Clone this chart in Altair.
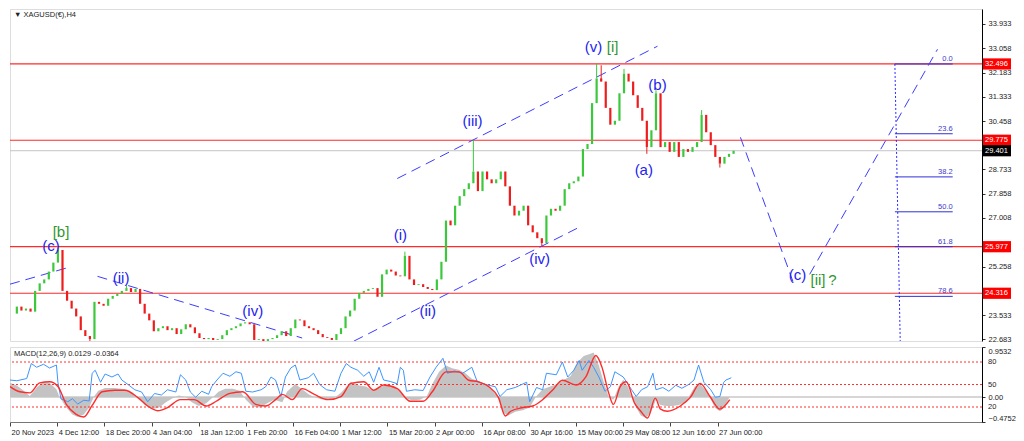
import altair as alt
import pandas as pd

W, H1, H2 = 972, 332, 75
X_DOMAIN = [0, 1277.5]
P_DOMAIN = [22.613, 34.457]
MACD_DOMAIN = [-0.4752, 0.9532]
OSC_DOMAIN = [0, 100]

# ---------------- price data (daily closes of the H4 chart) ----------------
closes = [
    23.59, 23.84, 23.70, 23.77, 23.66, 24.40, 24.67, 24.81, 25.09, 25.41,
    25.86, 24.40, 24.05, 23.77, 23.49, 23.00, 22.79, 22.68, 24.01, 23.94,
    23.87, 24.12, 24.22, 24.29, 24.40, 24.50, 24.36, 24.47, 23.94, 23.59,
    23.35, 22.96, 23.07, 23.14, 23.00, 23.07, 22.86, 23.03, 23.21, 23.10,
    22.89, 22.72, 22.68, 22.72, 22.65, 22.68, 22.82, 23.00, 23.07, 23.14,
    23.24, 23.28, 23.21, 22.65, 22.68, 22.61, 22.68, 22.72, 22.82, 22.96,
    22.79, 23.07, 23.38, 23.35, 23.14, 23.07, 23.00, 22.86, 22.75, 22.72,
    22.65, 22.86, 23.07, 23.49, 23.70, 24.12, 24.33, 24.40, 24.47, 24.50,
    24.19, 24.99, 25.16, 25.09, 24.95, 24.92, 25.65, 24.81, 24.61, 24.64,
    24.54, 24.47, 24.43, 24.81, 25.44, 26.91, 26.74, 27.44, 27.78, 28.03,
    28.24, 28.66, 27.96, 28.66, 28.38, 28.24, 28.38, 28.66, 28.13, 27.44,
    27.09, 27.26, 27.44, 26.74, 26.49, 26.28, 26.11, 27.09, 27.33, 27.26,
    27.44, 28.03, 28.24, 28.31, 28.48, 29.46, 29.64, 31.10, 31.98, 31.87,
    30.93, 30.33, 30.47, 31.45, 32.15, 31.87, 31.38, 30.93, 30.47, 29.53,
    30.13, 31.45, 29.53, 29.71, 29.36, 29.71, 29.18, 29.46, 29.36, 29.53,
    29.71, 30.68, 30.06, 29.60, 29.18, 28.94, 29.18, 29.29, 29.40,
]
bars_per_day = 6
spike_days = [10, 17, 25, 86, 101, 116, 128, 129, 134, 139, 141, 151, 155]
spike_prices = [25.95, 22.58, 24.60, 25.80, 29.78, 25.98, 32.50, 32.45, 32.32, 29.29, 31.56, 30.85, 28.80]

hline_prices = [32.496, 29.775, 25.977, 24.316]
bid_price = 29.401
price_ticks = [22.683, 23.533, 25.258, 27.008, 27.858, 28.733, 30.458, 31.333, 32.183, 33.058, 33.933]

time_labels = ["20 Nov 2023", "4 Dec 12:00", "18 Dec 20:00", "4 Jan 04:00", "18 Jan 12:00",
               "1 Feb 20:00", "16 Feb 04:00", "1 Mar 12:00", "15 Mar 20:00", "2 Apr 00:00",
               "16 Apr 08:00", "30 Apr 16:00", "15 May 00:00", "29 May 08:00", "12 Jun 16:00",
               "27 Jun 00:00"]
time_step = 62

# Fibonacci tool
fib_labels = ["0.0", "23.6", "38.2", "50.0", "61.8", "78.6"]
fib_prices = [32.496, 30.007, 28.467, 27.222, 25.977, 24.205]
fib_bar_start, fib_bar_end = 1163, 1239
fib_vert_bars = [1163, 1170]
fib_vert_prices = [32.496, 22.613]

# dashed trend lines (bar, price) endpoints
seg_bar1 = [0, 115, 452, 509, 960, 1051]
seg_p1 = [24.64, 24.92, 22.61, 28.41, 29.88, 24.99]
seg_bar2 = [76, 384, 748, 851, 1029, 1219]
seg_p2 = [25.23, 22.72, 26.67, 33.13, 24.74, 33.02]

# wave labels
wave_text = ["[b]", "(c)", "(ii)", "(iv)", "(i)", "(ii)", "(iii)", "(iv)", "(v)", "[i]", "(b)", "(a)", "(c)", "[ii]", "?"]
wave_bar = [67, 54, 146, 319, 513, 549, 608, 696, 767, 792, 851, 833, 1035, 1062, 1081]
wave_price = [26.50, 26.00, 24.85, 23.70, 26.39, 23.70, 30.47, 25.55, 33.09, 33.09, 31.73, 28.73, 24.95, 24.78, 24.78]
wave_color = ["#2f962f", "#2323f0", "#2323f0", "#2323f0", "#2323f0", "#2323f0", "#2323f0", "#2323f0", "#2323f0",
              "#2f962f", "#2323f0", "#2323f0", "#2323f0", "#2f962f", "#2f962f"]

# ---------------- MACD panel data ----------------
hist_bars = [0, 9, 18, 26, 35, 44, 52, 61, 65, 74, 82, 89, 97, 104, 110, 116, 125, 138, 151, 160, 168, 177, 186, 196,
             205, 213, 222, 231, 239, 248, 258, 267, 274, 283, 293, 302, 310, 319, 329, 338, 347, 358, 364, 375, 384,
             393, 400, 409, 418, 426, 435, 448, 459, 468, 477, 484, 493, 504, 513, 519, 528, 539, 548, 555, 564, 573,
             581, 590, 599, 607, 616, 625, 633, 642, 648, 655, 664, 674, 683, 691, 700, 710, 719, 728, 737, 745, 754,
             762, 767, 774, 780, 787, 793, 800, 806, 812, 817, 823, 829, 836, 842, 849, 855, 862, 871, 879, 888, 894,
             900, 907, 913, 920, 926, 933, 939, 946]
hist_vals = [0.27, 0.22, 0.12, 0.02, 0.18, 0.29, 0.27, 0.15, 0.0, -0.2, -0.33, -0.38, -0.33, -0.2, 0.0, 0.12, 0.17,
             0.17, 0.15, 0.07, 0.0, -0.15, -0.23, -0.2, -0.1, -0.03, 0.03, 0.0, -0.1, -0.17, -0.12, 0.0, 0.1, 0.16,
             0.16, 0.12, -0.05, -0.18, -0.2, -0.12, -0.05, -0.1, 0.1, 0.25, 0.15, 0.05, 0.0, -0.04, -0.05, -0.02, 0.08,
             0.29, 0.22, 0.2, 0.12, 0.18, 0.22, 0.2, 0.1, -0.02, -0.06, -0.05, 0.02, 0.25, 0.48, 0.6, 0.55, 0.52, 0.45,
             0.35, 0.3, 0.25, 0.15, 0.0, -0.3, -0.35, -0.28, -0.25, -0.2, 0.0, 0.15, 0.2, 0.25, 0.33, 0.4, 0.65, 0.78,
             0.82, 0.85, 0.6, 0.3, 0.0, -0.05, 0.2, 0.33, 0.2, 0.0, -0.2, -0.35, -0.4, -0.3, -0.05, -0.15, -0.17,
             -0.17, -0.15, -0.1, 0.05, 0.2, 0.25, 0.15, 0.0, -0.2, -0.27, -0.2, 0.01]
sig_bars = [0, 13, 26, 39, 52, 63, 74, 87, 97, 108, 121, 138, 151, 168, 181, 194, 207, 224, 242, 258, 271, 289, 306,
            323, 336, 349, 358, 371, 384, 400, 418, 435, 448, 465, 478, 491, 509, 526, 543, 555, 573, 590, 603, 616,
            629, 642, 651, 658, 674, 687, 700, 713, 726, 744, 757, 770, 778, 787, 793, 802, 810, 821, 829, 838, 848,
            855, 864, 881, 894, 907, 920, 933, 946]
sig_vals = [0.2, 0.1, 0.08, 0.27, 0.29, 0.2, -0.14, -0.33, -0.38, -0.16, 0.1, 0.13, 0.13, -0.01, -0.17, -0.26, -0.2,
            -0.05, -0.05, -0.17, -0.08, 0.07, 0.1, -0.14, -0.17, -0.05, 0.05, -0.05, 0.16, 0.05, -0.05, 0.01, 0.26,
            0.29, 0.13, 0.23, 0.16, -0.08, -0.08, 0.1, 0.48, 0.48, 0.32, 0.29, 0.2, -0.01, -0.36, -0.27, -0.2, -0.17,
            -0.05, 0.13, 0.32, 0.23, 0.39, 0.79, 0.57, 0.07, -0.14, 0.2, 0.29, -0.12, -0.27, -0.4, -0.02, -0.23,
            -0.27, -0.17, -0.01, 0.26, 0.01, -0.23, -0.05]
osc_bars = [0, 9, 22, 28, 35, 44, 52, 61, 63, 67, 76, 82, 89, 97, 104, 108, 112, 119, 125, 134, 142, 147, 155, 164,
            173, 181, 190, 199, 207, 218, 224, 231, 237, 244, 252, 261, 265, 272, 280, 289, 297, 304, 310, 319, 330,
            336, 343, 349, 356, 362, 369, 375, 381, 392, 399, 407, 416, 427, 435, 442, 448, 457, 465, 472, 478, 485,
            491, 500, 509, 513, 517, 521, 532, 543, 552, 560, 569, 575, 584, 595, 607, 614, 625, 638, 644, 653, 664,
            679, 683, 692, 700, 705, 718, 726, 733, 741, 748, 752, 761, 767, 774, 782, 789, 795, 806, 817, 823, 830,
            838, 845, 849, 858, 866, 875, 883, 892, 899, 905, 912, 921, 927, 933, 938, 941, 948]
osc_vals = [56, 55, 58, 78, 73, 77, 72, 76, 53, 31, 27, 31, 24, 29, 28, 65, 69, 53, 64, 60, 64, 56, 50, 43, 40, 27,
            38, 36, 43, 40, 63, 56, 40, 33, 41, 37, 47, 56, 65, 61, 67, 65, 41, 40, 43, 47, 60, 56, 34, 60, 72, 76,
            56, 59, 65, 50, 43, 41, 65, 78, 73, 69, 61, 67, 53, 73, 56, 54, 51, 73, 69, 41, 43, 42, 60, 73, 85, 65,
            68, 65, 73, 54, 50, 47, 34, 43, 46, 53, 27, 46, 43, 65, 63, 80, 60, 69, 82, 69, 82, 73, 60, 41, 47, 67,
            60, 43, 34, 43, 47, 65, 43, 46, 41, 49, 45, 50, 56, 76, 53, 43, 33, 34, 53, 56, 59]
osc_levels = [80, 50, 20]
macd_ticks = [-0.4752, 0.0, 0.9532]

# ---------------- frames ----------------
UP, DOWN = "#3cc83c", "#ee1c1c"
candles = pd.DataFrame({"day": list(range(len(closes))), "close": closes})
candles["bar"] = candles["day"] * bars_per_day + 3
candles["open"] = candles["close"].shift(1).fillna(candles["close"].iloc[0])
candles["col"] = [UP if c >= o else DOWN for c, o in zip(candles["close"], candles["open"])]
spikes = pd.DataFrame({"day": spike_days, "spike": spike_prices}).merge(candles, on="day")

hlines = pd.DataFrame({"price": hline_prices})
tags = pd.DataFrame({
    "price": hline_prices + [bid_price],
    "label": [f"{p:.3f}" for p in hline_prices] + [f"{bid_price:.3f}"],
    "col": ["#ff0000"] * len(hline_prices) + ["#000000"],
})
tag_half = 0.2
tags["top"] = tags["price"] + tag_half
tags["bottom"] = tags["price"] - tag_half
fib = pd.DataFrame({"label": fib_labels, "price": fib_prices, "b1": fib_bar_start, "b2": fib_bar_end})
fvert = pd.DataFrame({"b1": [fib_vert_bars[0]], "b2": [fib_vert_bars[1]],
                      "p1": [fib_vert_prices[0]], "p2": [fib_vert_prices[1]]})
segs = pd.DataFrame({"b1": seg_bar1, "p1": seg_p1, "b2": seg_bar2, "p2": seg_p2})
waves = pd.DataFrame({"text": wave_text, "bar": wave_bar, "price": wave_price, "col": wave_color})

hist = pd.DataFrame({"bar": hist_bars, "v": hist_vals})
sig = pd.DataFrame({"bar": sig_bars, "v": sig_vals})
osc = pd.DataFrame({"bar": osc_bars, "v": osc_vals})
lev = pd.DataFrame({"v": osc_levels})

FONT = "Liberation Sans"
LINE_BLUE = "#3c3cff"
RED = "#ff2a2a"
LBL = 7.5

price_axis = alt.Axis(orient="right", values=price_ticks, format=".3f", labelFontSize=LBL, labelColor="#222",
                      labelFont=FONT, tickSize=3, tickColor="#333", domainColor="#000", grid=False, title=None,
                      labelOverlap=False, labelPadding=3)
xs = alt.Scale(domain=X_DOMAIN, nice=False, zero=False)
ps = alt.Scale(domain=P_DOMAIN, nice=False, zero=False)


def PX(f):
    return alt.X(f, type="quantitative", scale=xs, axis=None)


def PY(f):
    return alt.Y(f, type="quantitative", scale=ps, axis=price_axis)


red_lines = alt.Chart(hlines).mark_rule(color=RED, strokeWidth=1.2).encode(y=PY("price"))
bid_line = alt.Chart(pd.DataFrame({"price": [bid_price]})).mark_rule(color="#c4c4c4", strokeWidth=1).encode(y=PY("price"))
fib_lines = alt.Chart(fib).mark_rule(color="#3030d8", strokeWidth=1).encode(x=PX("b1"), x2="b2", y=PY("price"))
fib_text = alt.Chart(fib).mark_text(align="right", baseline="bottom", dy=-1, fontSize=7.5, font=FONT,
                                     color="#3a3acd").encode(x=PX("b2"), y=PY("price"), text="label")
fib_v = alt.Chart(fvert).mark_rule(color="#2a2aff", strokeDash=[2, 2], strokeWidth=1).encode(
    x=PX("b1"), x2="b2", y=PY("p1"), y2="p2")
trend = alt.Chart(segs).mark_rule(color=LINE_BLUE, strokeDash=[10, 6], strokeWidth=1, clip=True).encode(
    x=PX("b1"), x2="b2", y=PY("p1"), y2="p2")
candle_marks = alt.Chart(candles).mark_rule(strokeWidth=2.2, clip=True).encode(
    x=PX("bar"), y=PY("open"), y2="close", color=alt.Color("col:N", scale=None))
spike_marks = alt.Chart(spikes).mark_rule(strokeWidth=1, clip=True).encode(
    x=PX("bar"), y=PY("close"), y2="spike", color=alt.Color("col:N", scale=None))
wave_marks = alt.Chart(waves).mark_text(fontSize=15, font=FONT, baseline="middle").encode(
    x=PX("bar"), y=PY("price"), text="text", color=alt.Color("col:N", scale=None))
tag_rects = alt.Chart(tags).mark_rect().encode(
    x=alt.value(W + 1), x2=alt.value(W + 29), y=PY("top"), y2="bottom", color=alt.Color("col:N", scale=None))
tag_text = alt.Chart(tags).mark_text(align="left", baseline="middle", fontSize=LBL, font=FONT, color="white").encode(
    x=alt.value(W + 3), y=PY("price"), text="label")
title_price = alt.Chart(pd.DataFrame({"t": ["▼ XAGUSD(€),H4"]})).mark_text(
    align="left", baseline="middle", fontSize=LBL, font=FONT, color="#222").encode(
    x=alt.value(4), y=alt.value(6), text="t")

price_chart = alt.layer(red_lines, bid_line, fib_lines, fib_text, fib_v, trend, candle_marks, spike_marks,
                        wave_marks, tag_rects, tag_text, title_price).properties(width=W, height=H1)

# ---------------- MACD ----------------
time_expr = "[" + ",".join(f"'{t}'" for t in time_labels) + "][round(datum.value / %d)]" % time_step
time_axis = alt.Axis(values=[i * time_step for i in range(len(time_labels))], labelExpr=time_expr,
                     labelAlign="left", labelPadding=2, tickSize=4, labelFontSize=LBL, labelFont=FONT,
                     labelColor="#222", grid=False, title=None, domainColor="#777", tickColor="#444",
                     labelOverlap=False, labelBound=False, labelFlush=False, labelOffset=1)
ms = alt.Scale(domain=MACD_DOMAIN, nice=False, zero=False)
os_ = alt.Scale(domain=OSC_DOMAIN, nice=False, zero=False)
macd_axis = alt.Axis(orient="right", values=macd_ticks, labelFlush=True, labelOverlap=False,
                     labelExpr="datum.value == 0 ? '0.00' : format(datum.value, '.4f')",
                     labelFontSize=LBL, labelFont=FONT, labelColor="#222", tickSize=3, tickColor="#333",
                     domainColor="#000", grid=False, title=None, labelPadding=3)


def MX(f):
    return alt.X(f, type="quantitative", scale=xs, axis=time_axis)


hist_area = alt.Chart(hist).mark_area(color="#c3c3c3", clip=True).encode(
    x=MX("bar"), y=alt.Y("v:Q", scale=ms, axis=macd_axis), y2=alt.datum(0))
zero_line = alt.Chart(pd.DataFrame({"v": [0.0]})).mark_rule(color="#d6d6d6", strokeWidth=2).encode(
    y=alt.Y("v:Q", scale=ms, axis=None))
sig_line = alt.Chart(sig).mark_line(color="#ff2c2c", strokeWidth=1.4, interpolate="monotone", clip=True).encode(
    x=MX("bar"), y=alt.Y("v:Q", scale=ms, axis=None))
osc_line = alt.Chart(osc).mark_line(color="#3d95ff", strokeWidth=1, clip=True).encode(
    x=MX("bar"), y=alt.Y("v:Q", scale=os_, axis=None))
lev_lines = alt.Chart(lev).mark_rule(color="#ff3030", strokeDash=[2, 2], strokeWidth=1).encode(
    y=alt.Y("v:Q", scale=os_, axis=None))
lev_text = alt.Chart(lev).mark_text(align="left", baseline="middle", fontSize=LBL, font=FONT, color="#222").encode(
    x=alt.value(W + 6), y=alt.Y("v:Q", scale=os_, axis=None), text=alt.Text("v:Q", format="d"))
macd_title = alt.Chart(pd.DataFrame({"t": ["MACD(12,26,9) 0.0129 -0.0364"]})).mark_text(
    align="left", baseline="middle", fontSize=LBL, font=FONT, color="#222").encode(
    x=alt.value(4), y=alt.value(7), text="t")

macd_chart = alt.layer(zero_line, hist_area, lev_lines, osc_line, sig_line, lev_text, macd_title).resolve_scale(
    y="independent").properties(width=W, height=H2)

chart = alt.vconcat(price_chart, macd_chart, spacing=2).properties(
    padding={"left": 0, "right": 0, "top": 0, "bottom": 0}
).configure_view(stroke="#6e6e6e", strokeWidth=1).configure(background="white")

chart.save("out.html", embed_options={"renderer": "svg", "actions": False})
